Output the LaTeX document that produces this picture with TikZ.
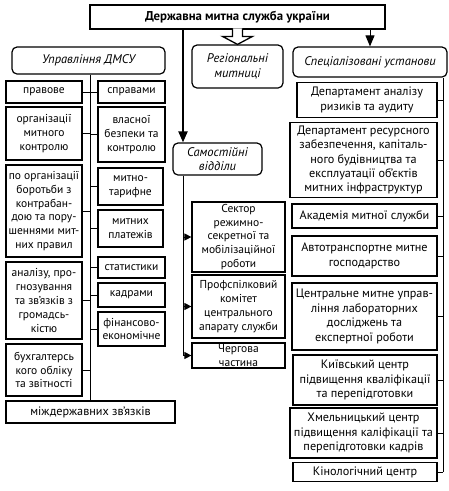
\documentclass[tikz,border=0pt]{standalone}
\usepackage{fontspec}
\setmainfont{PT Sans}
\usetikzlibrary{arrows.meta,calc}
\begin{document}
\begin{tikzpicture}[x=1pt,y=-1pt,
		box/.style={draw,line width=1.2pt,align=center,inner sep=0.5pt,font=\fontsize{11.5}{13.8}\selectfont},
		wbox/.style={box,font=\fontsize{12.2}{14.4}\selectfont},
		head/.style={box,rounded corners=5pt,font=\fontsize{12.5}{14.5}\selectfont\itshape},
		tip/.style={-{Triangle[length=7pt,width=7pt]}},
		bigtip/.style={-{Triangle[length=11pt,width=9pt]}},
		link/.style={line width=1pt}]
				\useasboundingbox (0,0) rectangle (449,491);
				\node[box,line width=1.5pt,minimum width=295,minimum height=24,font=\fontsize{12.8}{13}\selectfont\bfseries] (gov) at (237.5,17) {Державна митна служба україни};
				\node[head,minimum width=153,minimum height=27] (upr) at (88.5,60.5) {Управління ДМСУ};
				\node[head,minimum width=91,minimum height=43] (reg) at (237.5,66.5) {Регіональні\\митниці};
				\node[head,minimum width=154,minimum height=30] (spec) at (370,62) {Спеціалізовані установи};
				\node[head,minimum width=89,minimum height=32] (sam) at (217.5,159) {Самостійні\\відділи};
				\coordinate (lj) at (90,0);
				\coordinate (sj) at (183,0);
				\coordinate (rj) at (443,0);
				% ліва колонка
				\node[box,minimum width=76,minimum height=22] (pravove) at (44,92) {правове};
				\node[box,minimum width=76,minimum height=53] (orgmk) at (44,133.5) {організації\\митного\\контролю};
				\node[box,minimum width=76,minimum height=92] (borot) at (44,211) {по організації\\боротьби з\\контрабан-\\дою та пору-\\шеннями мит-\\них правил};
				\node[box,minimum width=76,minimum height=77] (analiz) at (44,300.5) {аналізу, про-\\гнозування\\та зв’язків з\\громадсь-\\кістю};
				\node[box,minimum width=76,minimum height=52] (buh) at (44,370) {бухгалтерсь\\кого обліку\\та звітності};
				\node[box,minimum width=67,minimum height=22] (sprav) at (131.5,92) {справами};
				\node[box,minimum width=67,minimum height=55] (vlasn) at (131.5,134.5) {власної\\безпеки та\\контролю};
				\node[box,minimum width=65,minimum height=37] (tarif) at (130.5,186.5) {митно-\\тарифне};
				\node[box,minimum width=65,minimum height=37] (plat) at (130.5,228.5) {митних\\платежів};
				\node[box,minimum width=67,minimum height=21] (stat) at (131.5,267.5) {статистики};
				\node[box,minimum width=67,minimum height=24] (kadr) at (131.5,295) {кадрами};
				\node[box,minimum width=67,minimum height=34] (fin) at (131.5,329) {фінансово-\\економічне};
				\node[wbox,minimum width=169,minimum height=22] (mizh) at (90.5,412) {міждержавних зв’язків};
				% середня колонка
				\node[box,minimum width=93,minimum height=70] (sector) at (238.5,237) {Сектор\\режимно-\\секретної та\\мобілізаційної\\роботи};
				\node[box,minimum width=93,minimum height=63] (prof) at (238.5,306.5) {Профспілковий\\комітет\\центрального\\апарату служби};
				\node[box,minimum width=93,minimum height=25] (cherg) at (238.5,355.5) {Чергова\\частина};
				% права колонка
				\node[wbox,minimum width=140,minimum height=35] (dep1) at (367,100) {Департамент аналізу\\ризиків та аудиту};
				\node[wbox,minimum width=147,minimum height=75] (dep2) at (363.5,160) {Департамент ресурсного\\забезпечення, капіталь-\\ного будівництва та\\експлуатації об’єктів\\митних інфраструктур};
				\node[wbox,minimum width=145,minimum height=24] (akad) at (364.5,216) {Академія митної служби};
				\node[wbox,minimum width=145,minimum height=40] (avto) at (364.5,256) {Автотранспортне митне\\господарство};
				\node[wbox,minimum width=145,minimum height=67] (centr) at (364.5,316.5) {Центральне митне управ-\\ління лабораторних\\досліджень та\\експертної роботи};
				\node[wbox,minimum width=144,minimum height=50] (kyiv) at (365,380) {Київський центр\\підвищення кваліфікації\\та перепідготовки};
				\node[wbox,minimum width=147,minimum height=50] (khm) at (363.5,433) {Хмельницький центр\\підвищення каліфікації та\\перепідготовки кадрів};
				\node[wbox,minimum width=144,minimum height=19] (kinol) at (365,472) {Кінологічний центр};
				% зв'язки
				\draw[line width=2pt,bigtip] (gov.south -| sj) -- (sam.north -| sj);
				\draw[link,bigtip] (gov.south -| spec) -- (spec.north);
				\draw[line width=1.3pt,fill=white] ($(reg.north)+(-5,-16)$) -- ($(reg.north)+(-5,-8)$) -- ($(reg.north)+(-15,-8)$) -- (reg.north) -- ($(reg.north)+(15,-8)$) -- ($(reg.north)+(5,-8)$) -- ($(reg.north)+(5,-16)$);
				\draw[link] (upr.south -| lj) -- (mizh.north -| lj);
				\foreach \n in {pravove,orgmk,borot,analiz,buh} \draw[link] (lj |- \n.east) -- (\n.east);
				\foreach \n in {sprav,vlasn,tarif,plat,stat,kadr,fin} \draw[link] (lj |- \n.west) -- (\n.west);
				\draw[link] (sam.south -| sj) -- (sj |- cherg.west);
				\foreach \n in {sector,prof,cherg} \draw[link,tip] (sj |- \n.west) -- (\n.west);
				\draw[link] (spec.south -| rj) -- (rj |- kinol.east);
				\foreach \n in {dep1,dep2,akad,avto,centr,kyiv,khm,kinol} \draw[link] (rj |- \n.east) -- (\n.east);
		\end{tikzpicture}
\end{document}
